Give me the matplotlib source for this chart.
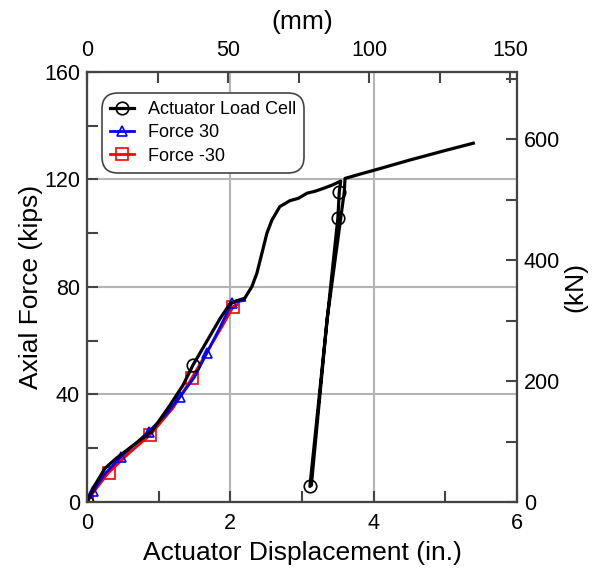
import numpy as np
import matplotlib
matplotlib.use('Agg')
import matplotlib.pyplot as plt
from matplotlib.ticker import MultipleLocator

plt.rcParams['font.family'] = ['Liberation Sans', 'DejaVu Sans']

IN_TO_MM = 25.4
KIP_TO_KN = 4.44822

# Actuator load cell (in., kips)
load_x = [0.0, 0.11, 0.25, 0.41, 0.65, 0.90, 1.16, 1.34, 1.48, 1.67, 1.86, 2.00,
          2.09, 2.20, 2.30, 2.37, 2.44, 2.51, 2.58, 2.69, 2.83, 2.95, 3.07, 3.18,
          3.30, 3.42, 3.54, 3.52, 3.50, 3.35, 3.11, 3.13, 3.35, 3.59, 3.60, 3.81,
          4.00, 4.50, 5.00, 5.39]
load_y = [0.0, 6.3, 12.5, 16.3, 21.2, 26.2, 36.1, 43.5, 51.0, 59.7, 68.4, 73.9,
          74.9, 75.8, 80.1, 85.1, 92.5, 100.0, 104.9, 109.9, 112.1, 113.0, 114.9, 115.6,
          116.7, 117.9, 119.4, 115.5, 105.6, 67.7, 5.8, 6.2, 68.0, 115.5, 120.4, 122.0,
          123.4, 127.2, 130.8, 133.5]
load_marks = [0, 8, 27, 28, 30]

# Force 30
f30_x = [0.0, 0.09, 0.25, 0.48, 0.86, 1.10, 1.30, 1.50, 1.67, 1.86, 2.02, 2.10, 2.20]
f30_y = [0.0, 4.2, 10.5, 16.9, 26.2, 32.5, 39.2, 46.5, 55.3, 65.2, 74.0, 74.6, 75.0]
f30_marks = [0, 1, 3, 4, 6, 8, 10]

# Force -30
fm30_x = [0.0, 0.10, 0.30, 0.60, 0.88, 1.20, 1.46, 1.70, 1.90, 2.04, 2.10]
fm30_y = [0.0, 4.0, 10.9, 18.5, 24.9, 35.0, 46.0, 57.0, 66.0, 72.7, 73.5]
fm30_marks = [0, 2, 4, 6, 9]

spine_col = '#444444'
grid_col = '#b4b4b4'
TICK_FS = 15.5
LABEL_FS = 19

fig = plt.figure(figsize=(5.94, 5.69), dpi=100)
ax = fig.add_axes([0.1465, 0.1178, 0.7239, 0.7557])

ax.plot(load_x, load_y, color='black', lw=2.3, marker='o', ms=9, mfc='none',
        mew=1.2, markevery=load_marks, label='Actuator Load Cell', zorder=3)
ax.plot(f30_x, f30_y, color='blue', lw=2, marker='^', ms=7, mfc='none',
        mew=1.2, markevery=f30_marks, label='Force 30', zorder=2)
ax.plot(fm30_x, fm30_y, color='red', lw=2, marker='s', ms=9, mfc='none',
        mew=1.2, markevery=fm30_marks, label='Force -30', zorder=1)

ax.set_xlim(0, 6)
ax.set_ylim(0, 160)
ax.xaxis.set_major_locator(MultipleLocator(2))
ax.xaxis.set_minor_locator(MultipleLocator(1))
ax.yaxis.set_major_locator(MultipleLocator(40))
ax.yaxis.set_minor_locator(MultipleLocator(20))
ax.grid(True, which='major', color=grid_col, lw=1.5)
ax.set_axisbelow(True)
ax.tick_params(which='both', direction='in', length=8, width=1.5, color=spine_col,
               labelsize=TICK_FS, pad=8)
ax.tick_params(axis='y', pad=5)
ax.set_xlabel('Actuator Displacement (in.)', fontsize=LABEL_FS, labelpad=5)
ax.set_ylabel('Axial Force (kips)', fontsize=LABEL_FS, labelpad=1)

# top axis in mm
ax_top = ax.twiny()
ax_top.set_xlim(0, 6 * IN_TO_MM)
ax_top.xaxis.set_major_locator(MultipleLocator(50))
ax_top.xaxis.set_minor_locator(MultipleLocator(25))
ax_top.tick_params(which='both', direction='in', length=8, width=1.5, color=spine_col,
                   labelsize=TICK_FS, pad=8)
ax_top.set_xlabel('(mm)', fontsize=LABEL_FS, labelpad=8)

# right axis in kN
ax_right = ax.twinx()
ax_right.set_ylim(0, 160 * KIP_TO_KN)
ax_right.yaxis.set_major_locator(MultipleLocator(200))
ax_right.yaxis.set_minor_locator(MultipleLocator(100))
ax_right.tick_params(which='both', direction='in', length=8, width=1.5, color=spine_col,
                     labelsize=TICK_FS, pad=5)
ax_right.set_ylabel('(kN)', fontsize=LABEL_FS, labelpad=2)

for a in (ax, ax_top, ax_right):
    for s in a.spines.values():
        s.set_color(spine_col)
        s.set_linewidth(1.5)

leg = ax.legend(loc='upper left', bbox_to_anchor=(0.1717, 0.8366),
                bbox_transform=fig.transFigure, borderaxespad=0, fontsize=13,
                handlelength=1.3, handletextpad=0.8, labelspacing=0.35,
                borderpad=0.45, fancybox=True, framealpha=1, edgecolor=spine_col)
leg.get_frame().set_linewidth(1.2)
leg.get_frame().set_boxstyle('round', pad=0, rounding_size=0.9)

fig.savefig('out.png', dpi=100)
